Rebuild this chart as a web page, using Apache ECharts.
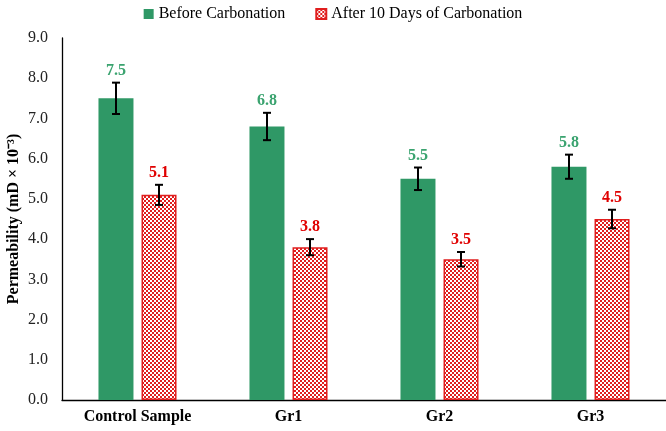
<!DOCTYPE html>
<html>
<head>
<meta charset="utf-8">
<script src="https://cdn.jsdelivr.net/npm/echarts@6/dist/echarts.min.js"></script>
<style>html,body{margin:0;padding:0;background:#fff}#c{width:666px;height:431px}</style>
</head>
<body>
<div id="c"></div>
<script>
var categories = ['Control Sample', 'Gr1', 'Gr2', 'Gr3'];
var beforeValues = [7.5, 6.8, 5.5, 5.8];
var afterValues = [5.1, 3.8, 3.5, 4.5];
var beforeErrors = [0.39, 0.34, 0.28, 0.30];
var afterErrors = [0.25, 0.20, 0.18, 0.23];
var yTicks = [0, 1, 2, 3, 4, 5, 6, 7, 8, 9];

var FONT = '"Liberation Serif", "Times New Roman", serif';
var GREEN = '#2f9866';
var GREEN_TXT = '#3aa36f';
var RED = '#e01e1e';
var RED_TXT = '#e00000';

// checker pattern for hatched bars
var pc = document.createElement('canvas');
pc.width = 4; pc.height = 4;
var pctx = pc.getContext('2d');
pctx.fillStyle = '#ffffff'; pctx.fillRect(0, 0, 4, 4);
pctx.fillStyle = RED;
pctx.fillRect(0, 0, 2, 2);
pctx.fillRect(2, 2, 2, 2);
var hatch = { image: pc, repeat: 'repeat' };

var BAR_W = 35, OFFSET = 21.5;

function errorSeries(values, errors, dx, color) {
  return {
    type: 'custom',
    silent: true,
    z: 5,
    data: values.map(function (v, i) { return [i, v, errors[i]]; }),
    renderItem: function (params, api) {
      var x = api.value(0), v = api.value(1), e = api.value(2);
      var hi = api.coord([x, v + e]);
      var lo = api.coord([x, v - e]);
      var cx = hi[0] + dx;
      var st = { stroke: '#000', lineWidth: 2 };
      return {
        type: 'group',
        children: [
          { type: 'line', shape: { x1: cx, y1: hi[1], x2: cx, y2: lo[1] }, style: st },
          { type: 'line', shape: { x1: cx - 4, y1: hi[1], x2: cx + 4, y2: hi[1] }, style: st },
          { type: 'line', shape: { x1: cx - 4, y1: lo[1], x2: cx + 4, y2: lo[1] }, style: st },
          { type: 'text', style: { x: cx, y: hi[1] - 4, text: v.toFixed(1), fill: color,
              font: 'bold 16px ' + FONT, align: 'center', verticalAlign: 'bottom' } }
        ]
      };
    }
  };
}

var chart = echarts.init(document.getElementById('c'));
chart.setOption({
  animation: false,
  backgroundColor: '#fff',
  legend: {
    top: 1,
    left: 'center',
    itemWidth: 10,
    itemHeight: 10,
    itemGap: 30,
    icon: 'rect',
    textStyle: { fontFamily: FONT, fontSize: 16, color: '#000' },
    data: ['Before Carbonation', 'After 10 Days of Carbonation']
  },
  grid: { left: 62, right: 0, top: 38, bottom: 31, containLabel: false, outerBoundsMode: 'none' },
  xAxis: {
    type: 'category',
    data: categories,
    axisLine: { lineStyle: { color: '#000', width: 1.3 } },
    axisTick: { show: false },
    axisLabel: { fontFamily: FONT, fontSize: 16, fontWeight: 'bold', color: '#000', margin: 9 }
  },
  yAxis: {
    type: 'value',
    min: yTicks[0],
    max: yTicks[yTicks.length - 1],
    interval: 1,
    name: 'Permeability (mD × 10⁻³)',
    nameLocation: 'middle',
    nameRotate: 90,
    nameGap: 40,
    nameMoveOverlap: false,
    nameTextStyle: { fontFamily: FONT, fontSize: 16, fontWeight: 'bold', color: '#000' },
    splitLine: { show: false },
    axisLine: { show: true, lineStyle: { color: '#000', width: 1.3 } },
    axisTick: { show: false },
    axisLabel: { fontFamily: FONT, fontSize: 16, color: '#222', margin: 14,
      formatter: function (v) { return v.toFixed(1); } }
  },
  series: [
    {
      name: 'Before Carbonation',
      type: 'bar',
      data: beforeValues,
      barWidth: BAR_W,
      barGap: '23%',
      itemStyle: { color: GREEN }
    },
    {
      name: 'After 10 Days of Carbonation',
      type: 'bar',
      data: afterValues,
      barWidth: BAR_W,
      itemStyle: { color: hatch, borderColor: RED, borderWidth: 1.5 }
    },
    errorSeries(beforeValues, beforeErrors, -OFFSET, GREEN_TXT),
    errorSeries(afterValues, afterErrors, OFFSET, RED_TXT)
  ]
});
</script>
</body>
</html>
